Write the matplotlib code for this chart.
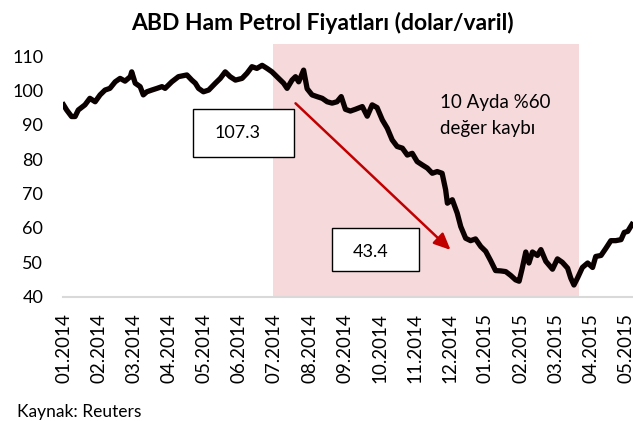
import matplotlib
matplotlib.use("Agg")
import matplotlib.pyplot as plt
from matplotlib.patches import Rectangle

# ---- data ----
month_labels = ["01.2014", "02.2014", "03.2014", "04.2014", "05.2014", "06.2014",
                "07.2014", "08.2014", "09.2014", "10.2014", "11.2014", "12.2014",
                "01.2015", "02.2015", "03.2015", "04.2015", "05.2015"]
# time in months since start of Jan 2014
t = [0.00, 0.09, 0.23, 0.33, 0.42, 0.61, 0.75, 0.90, 1.04, 1.18, 1.32, 1.47, 1.61, 1.75,
     1.90, 1.94, 2.04, 2.18, 2.27, 2.37, 2.51, 2.66, 2.80, 2.89, 3.08, 3.27, 3.51, 3.65,
     3.75, 3.84, 3.98, 4.13, 4.32, 4.46, 4.60, 4.74, 4.89, 5.08, 5.22, 5.36, 5.50, 5.65,
     5.79, 5.93, 6.07, 6.26, 6.36, 6.50, 6.60, 6.69, 6.83, 6.93, 7.07, 7.21, 7.36, 7.50,
     7.64, 7.78, 7.90, 8.02, 8.16, 8.30, 8.50, 8.64, 8.78, 8.92, 9.07, 9.21, 9.35, 9.49,
     9.64, 9.78, 9.92, 10.06, 10.21, 10.35, 10.49, 10.63, 10.77, 10.87, 10.92, 11.06,
     11.20, 11.30, 11.44, 11.58, 11.72, 11.87, 12.01, 12.15, 12.29, 12.44, 12.58, 12.72,
     12.86, 12.96, 13.05, 13.15, 13.24, 13.34, 13.48, 13.58, 13.72, 13.91, 14.05, 14.19,
     14.34, 14.43, 14.52, 14.62, 14.76, 14.91, 15.05, 15.14, 15.29, 15.43, 15.57, 15.71,
     15.86, 15.95, 16.05, 16.17]
price = [95.8, 94.3, 92.4, 92.4, 94.3, 95.8, 97.7, 96.7, 98.7, 100.1, 100.6, 102.5, 103.5,
         102.7, 104.0, 105.4, 102.1, 101.1, 98.7, 99.6, 100.1, 100.6, 101.1, 100.6, 102.5,
         104.0, 104.5, 103.0, 102.1, 100.6, 99.6, 100.1, 102.1, 103.5, 105.4, 104.0, 103.0,
         103.5, 105.0, 106.9, 106.4, 107.3, 106.4, 105.4, 104.0, 102.1, 100.6, 103.0, 104.0,
         102.5, 105.9, 100.5, 98.7, 98.2, 97.7, 96.7, 96.3, 96.7, 98.2, 94.5, 94.0, 94.5,
         95.3, 92.5, 95.8, 95.0, 91.4, 89.0, 85.6, 83.7, 83.2, 81.2, 81.7, 79.3, 78.3, 77.4,
         75.9, 76.4, 75.9, 71.1, 67.2, 68.2, 64.3, 60.4, 57.0, 56.3, 56.8, 54.6, 53.2, 50.5,
         47.6, 47.5, 47.3, 46.2, 44.9, 44.5, 48.3, 53.0, 49.8, 53.0, 52.0, 53.7, 50.3, 48.0,
         51.0, 50.0, 48.3, 45.4, 43.4, 45.4, 48.5, 49.8, 48.5, 51.7, 52.0, 54.1, 56.3, 56.3,
         56.6, 58.7, 59.0, 61.0]
shade_start, shade_end = 5.95, 14.66
peak_label, low_label = "107.3", "43.4"
yticks = [40, 50, 60, 70, 80, 90, 100, 110]

FONT = "Lato"
W, H = 633, 421
fig = plt.figure(figsize=(W / 100, H / 100), dpi=100)
ax = fig.add_axes([62.7 / W, (H - 296.7) / H, (W - 62.7) / W, (296.7 - 44) / H])

ax.axvspan(shade_start, shade_end, color="#F6D9DB", zorder=0, lw=0)
ax.plot(t, price, color="#0a0000", lw=3.8, solid_joinstyle="round", zorder=3)

ax.set_xlim(-0.023, 16.20)
ax.set_ylim(40, 113.5)
ax.set_yticks(yticks)
ax.set_yticklabels([str(v) for v in yticks], fontfamily=FONT, fontsize=13)
ax.set_xticks(range(len(month_labels)))
ax.set_xticklabels(month_labels, rotation=90, fontfamily=FONT, fontsize=13.5)
ax.tick_params(axis="both", length=0)
ax.tick_params(axis="y", pad=14)
ax.tick_params(axis="x", pad=12)
for s in ["top", "right", "left"]:
    ax.spines[s].set_visible(False)
ax.spines["bottom"].set_color("#D9D9D9")
ax.spines["bottom"].set_linewidth(1.5)

# annotations
ax.add_patch(Rectangle((3.68, 80.6), 2.88, 14.0, facecolor="white", edgecolor="black",
                       lw=1.0, zorder=4))
ax.text(4.96, 87.6, peak_label, ha="center", va="center", fontsize=13, fontfamily=FONT, zorder=5)
ax.add_patch(Rectangle((7.65, 47.6), 2.47, 12.5, facecolor="white", edgecolor="black",
                       lw=1.0, zorder=4))
ax.text(8.75, 52.9, low_label, ha="center", va="center", fontsize=13, fontfamily=FONT, zorder=5)
ax.annotate("", xy=(11.01, 53.6), xytext=(6.60, 96.25),
            arrowprops=dict(arrowstyle="-|>,head_length=1.0,head_width=0.45",
                            color="#C00000", lw=1.8, shrinkA=0, shrinkB=0), zorder=5)
ax.text(10.70, 94.9, "10 Ayda %60", ha="left", va="baseline", fontsize=13.5, fontfamily=FONT)
ax.text(10.70, 87.3, "değer kaybı", ha="left", va="baseline", fontsize=13.5, fontfamily=FONT)

fig.text(322 / W, 1 - 30 / H, "ABD Ham Petrol Fiyatları (dolar/varil)", ha="center",
         va="baseline", fontsize=16.5, fontweight="bold", fontfamily=FONT)
fig.text(16.7 / W, 1 - 416.5 / H, "Kaynak: Reuters", ha="left", va="baseline",
         fontsize=12.5, fontfamily=FONT)

fig.savefig("out.png", dpi=100)
